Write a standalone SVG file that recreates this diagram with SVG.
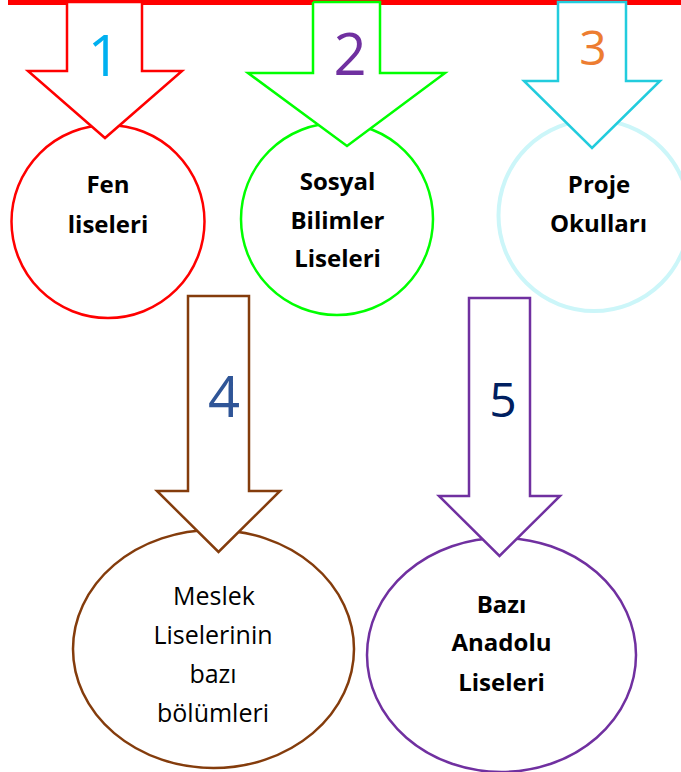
<svg xmlns="http://www.w3.org/2000/svg" width="681" height="772" viewBox="0 0 681 772">
<style>
.node{fill:#fff;stroke-width:2.5}
.lbl{font-family:"Open Sans","Liberation Sans",sans-serif;font-size:24px;font-weight:bold;fill:#000;text-anchor:middle}
.lbl2{font-family:"Open Sans","Liberation Sans",sans-serif;font-size:25px;fill:#000;text-anchor:middle}
.arr{fill:#fff;stroke-width:2.5;stroke-linejoin:miter}
.num{font-family:"Open Sans","Liberation Sans",sans-serif;text-anchor:middle}
</style>
<rect width="681" height="772" fill="#fff"/>
<rect id="bar" x="8" y="0" width="673" height="5" fill="#FF0000"/>
<g id="n1">
<circle class="node" cx="108" cy="221.5" r="96.5" stroke="#FF0000"/>
<text class="lbl" x="108" y="193">Fen</text>
<text class="lbl" x="108" y="233">liseleri</text>
</g>
<g id="n2">
<circle class="node" cx="337" cy="219" r="96" stroke="#00FF00"/>
<text class="lbl" x="337.5" y="190">Sosyal</text>
<text class="lbl" x="337.5" y="228.5">Bilimler</text>
<text class="lbl" x="337.5" y="267">Liseleri</text>
</g>
<g id="n3">
<circle cx="594" cy="215.5" r="95.5" fill="#fff" stroke="#CCF6F9" stroke-width="4"/>
<text class="lbl" x="599" y="193">Proje</text>
<text class="lbl" x="598.5" y="232">Okulları</text>
</g>
<g id="n4">
<ellipse class="node" cx="213.5" cy="649" rx="140.5" ry="119" stroke="#843C0C"/>
<text class="lbl2" x="214" y="605">Meslek</text>
<text class="lbl2" x="213" y="644">Liselerinin</text>
<text class="lbl2" x="213" y="683">bazı</text>
<text class="lbl2" x="213" y="722">bölümleri</text>
</g>
<g id="n5">
<ellipse class="node" cx="501.5" cy="655" rx="134.5" ry="117" stroke="#7030A0"/>
<text class="lbl" x="501.5" y="613">Bazı</text>
<text class="lbl" x="501.5" y="651">Anadolu</text>
<text class="lbl" x="501.5" y="691">Liseleri</text>
</g>
<g id="connectors">
<g id="a1">
<polygon class="arr" stroke="#FF0000" points="67,2 142,2 142,71 182,71 105,138 28,71 67,71"/>
<text class="num" x="104" y="76" font-size="57" fill="#00B0F0">1</text>
</g>
<g id="a2">
<polygon class="arr" stroke="#00FF00" points="313,2 380,2 380,73 445,73 347,146 248,73 313,73"/>
<text class="num" x="350" y="75" font-size="58" fill="#7030A0">2</text>
</g>
<g id="a3">
<polygon class="arr" stroke="#22CCDD" points="558,2 626,2 626,81 660,81 592,148 524,81 558,81"/>
<text class="num" x="593" y="65" font-size="48" fill="#ED7D31">3</text>
</g>
<g id="a4">
<polygon class="arr" stroke="#843C0C" points="188,296 249,296 249,491 280,491 218.5,552 157,491 188,491"/>
<text class="num" x="224" y="417" font-size="56" fill="#2F5597">4</text>
</g>
<g id="a5">
<polygon class="arr" stroke="#7030A0" points="469,298 530,298 530,496 560,496 499.5,556 439,496 469,496"/>
<text class="num" x="503" y="417" font-size="48" fill="#002060">5</text>
</g>
</g>
<rect x="8" y="0" width="305" height="2" fill="#FF0000"/>
</svg>
